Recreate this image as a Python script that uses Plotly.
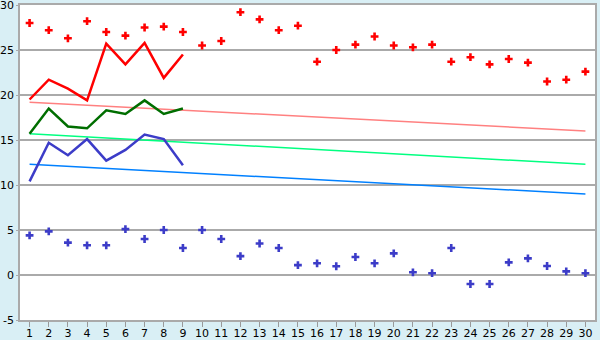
import plotly.graph_objects as go

days = list(range(1, 31))
red_points = [28.0, 27.2, 26.3, 28.2, 27.0, 26.6, 27.5, 27.6, 27.0, 25.5,
              26.0, 29.2, 28.4, 27.2, 27.7, 23.7, 25.0, 25.6, 26.5, 25.5,
              25.3, 25.6, 23.7, 24.2, 23.4, 24.0, 23.6, 21.5, 21.7, 22.6]
blue_points = [4.4, 4.85, 3.6, 3.3, 3.3, 5.1, 4.0, 5.0, 3.0, 5.0,
               4.0, 2.1, 3.5, 3.0, 1.1, 1.3, 0.97, 2.0, 1.3, 2.4,
               0.3, 0.2, 3.0, -1.0, -1.0, 1.4, 1.85, 1.0, 0.4, 0.2]
line_days = list(range(1, 10))
red_line = [19.5, 21.7, 20.7, 19.4, 25.7, 23.4, 25.8, 21.9, 24.5]
green_line = [15.7, 18.5, 16.5, 16.3, 18.3, 17.9, 19.4, 17.9, 18.5]
blue_line = [10.4, 14.7, 13.3, 15.1, 12.7, 13.9, 15.6, 15.1, 12.2]
trend_days = [1, 30]
pink_trend = [19.2, 16.0]
green_trend = [15.7, 12.3]
blue_trend = [12.3, 9.0]
y_ticks = [-5, 0, 5, 10, 15, 20, 25, 30]
y_tick_labels = ["-5", "0", "5", "10", "15", "20", "25", "30"]

fig = go.Figure()
fig.add_trace(go.Scatter(x=trend_days, y=pink_trend, mode="lines",
                         line=dict(color="#FF8080", width=1.5)))
fig.add_trace(go.Scatter(x=trend_days, y=green_trend, mode="lines",
                         line=dict(color="#00FF80", width=1.5)))
fig.add_trace(go.Scatter(x=trend_days, y=blue_trend, mode="lines",
                         line=dict(color="#0080FF", width=1.5)))
fig.add_trace(go.Scatter(x=line_days, y=red_line, mode="lines",
                         line=dict(color="#FF0000", width=2.5)))
fig.add_trace(go.Scatter(x=line_days, y=green_line, mode="lines",
                         line=dict(color="#006E00", width=2.5)))
fig.add_trace(go.Scatter(x=line_days, y=blue_line, mode="lines",
                         line=dict(color="#3C3CC8", width=2.5)))
fig.add_trace(go.Scatter(x=days, y=red_points, mode="markers",
                         marker=dict(symbol="cross", size=6.5, color="#FF0000")))
fig.add_trace(go.Scatter(x=days, y=blue_points, mode="markers",
                         marker=dict(symbol="cross", size=6.5, color="#3C3CC8")))

fig.update_layout(
    width=600, height=340,
    margin=dict(l=20, r=5, t=5, b=20),
    paper_bgcolor="#D9EFF5",
    plot_bgcolor="#FFFFFF",
    showlegend=False,
    font=dict(family="DejaVu Sans", size=11, color="#000000"),
)
fig.update_xaxes(range=[0.5, 30.5], tickvals=days, ticks="outside", ticklen=5,
                 tickcolor="#999999", showgrid=False, zeroline=False,
                 showline=True, linecolor="#AAAAAA", linewidth=1.5, mirror=True,
                 ticklabelstandoff=-3, automargin=False, ticklabeloverflow="allow")
fig.update_yaxes(range=[-5, 30], tickvals=y_ticks, ticktext=y_tick_labels,
                 showgrid=True, gridcolor="#AAAAAA", gridwidth=1.5, zeroline=False,
                 showline=True, linecolor="#AAAAAA", linewidth=1.5, mirror=True,
                 ticks="outside", ticklen=2, tickcolor="#AAAAAA",
                 ticklabelstandoff=0, automargin=False, ticklabeloverflow="allow")

fig.write_html("out.html")
